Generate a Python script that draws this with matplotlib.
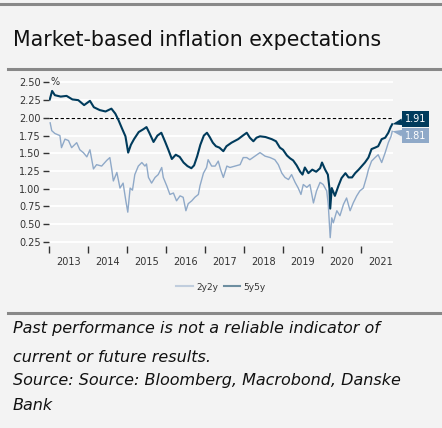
import matplotlib.pyplot as plt
from matplotlib.lines import Line2D

# (decimal years, %)
t_5y5y = [2013.02, 2013.08, 2013.15, 2013.3, 2013.45, 2013.6, 2013.75, 2013.9, 2014.05, 2014.15,
          2014.3, 2014.45, 2014.6, 2014.7, 2014.78, 2014.88, 2014.96, 2015.03, 2015.1, 2015.18,
          2015.3, 2015.42, 2015.5, 2015.58, 2015.68, 2015.78, 2015.88, 2015.98, 2016.06, 2016.15,
          2016.25, 2016.35, 2016.45, 2016.55, 2016.65, 2016.72, 2016.8, 2016.88, 2016.97, 2017.05,
          2017.12, 2017.2, 2017.28, 2017.37, 2017.47, 2017.55, 2017.68, 2017.85, 2017.97, 2018.07,
          2018.15, 2018.24, 2018.32, 2018.41, 2018.55, 2018.71, 2018.82, 2018.92, 2019.0, 2019.1,
          2019.18, 2019.26, 2019.35, 2019.44, 2019.5, 2019.56, 2019.65, 2019.75, 2019.85, 2019.95,
          2020.0, 2020.08, 2020.15, 2020.19, 2020.21, 2020.25, 2020.33, 2020.42, 2020.5, 2020.6,
          2020.68, 2020.77, 2020.85, 2020.94, 2021.02, 2021.1, 2021.19, 2021.27, 2021.36, 2021.44,
          2021.53, 2021.62, 2021.7, 2021.76, 2021.8]
v_5y5y = [2.26, 2.38, 2.32, 2.30, 2.31, 2.26, 2.25, 2.18, 2.24, 2.15,
          2.11, 2.09, 2.13, 2.06, 1.97, 1.84, 1.74, 1.51, 1.62, 1.70,
          1.80, 1.84, 1.87, 1.78, 1.66, 1.75, 1.79, 1.66, 1.55, 1.42,
          1.48, 1.45, 1.37, 1.32, 1.29, 1.33, 1.46, 1.62, 1.75, 1.79,
          1.73, 1.65, 1.60, 1.58, 1.53, 1.60, 1.65, 1.70, 1.75, 1.79,
          1.72, 1.67, 1.72, 1.74, 1.73, 1.70, 1.67, 1.58, 1.55, 1.47,
          1.43, 1.40, 1.33, 1.24, 1.20, 1.30, 1.22, 1.27, 1.24, 1.29,
          1.37, 1.27, 1.20, 1.01, 0.72, 1.01, 0.90, 1.04, 1.15, 1.22,
          1.16, 1.16, 1.22, 1.27, 1.32, 1.37, 1.44, 1.56, 1.58, 1.60,
          1.70, 1.72, 1.79, 1.87, 1.91]

t_2y2y = [2013.03, 2013.07, 2013.15, 2013.28, 2013.32, 2013.41, 2013.5, 2013.58, 2013.71, 2013.79,
          2013.88, 2013.97, 2014.05, 2014.14, 2014.22, 2014.35, 2014.48, 2014.56, 2014.61, 2014.65,
          2014.74, 2014.82, 2014.9, 2014.97, 2015.02, 2015.08, 2015.14, 2015.2, 2015.29, 2015.38,
          2015.46, 2015.5, 2015.55, 2015.63, 2015.72, 2015.8, 2015.89, 2015.93, 2016.02, 2016.1,
          2016.19, 2016.27, 2016.36, 2016.44, 2016.51, 2016.57, 2016.66, 2016.74, 2016.83, 2016.87,
          2016.96, 2017.04, 2017.08, 2017.17, 2017.26, 2017.34, 2017.4, 2017.47, 2017.56, 2017.64,
          2017.77, 2017.9, 2017.98, 2018.07, 2018.15, 2018.28, 2018.41, 2018.54, 2018.67, 2018.79,
          2018.88, 2018.97, 2019.05, 2019.14, 2019.22, 2019.31, 2019.39, 2019.46, 2019.52, 2019.61,
          2019.69, 2019.78, 2019.86, 2019.95, 2020.03, 2020.12, 2020.16, 2020.21, 2020.25, 2020.29,
          2020.38, 2020.46, 2020.55, 2020.63, 2020.72, 2020.8, 2020.89, 2020.97, 2021.06, 2021.15,
          2021.19, 2021.27, 2021.36, 2021.44, 2021.53, 2021.62, 2021.7, 2021.77, 2021.8]
v_2y2y = [1.93, 1.82, 1.78, 1.75, 1.58, 1.70, 1.68, 1.58, 1.65, 1.55,
          1.51, 1.45, 1.55, 1.28, 1.34, 1.32, 1.40, 1.44, 1.27, 1.11,
          1.23, 1.01, 1.08, 0.83, 0.67, 1.01, 0.98, 1.20, 1.32, 1.37,
          1.32, 1.35, 1.16, 1.08, 1.16, 1.20, 1.30, 1.16, 1.04, 0.92,
          0.94, 0.83, 0.90, 0.88, 0.69, 0.79, 0.83, 0.88, 0.92, 1.04,
          1.22, 1.30, 1.41, 1.32, 1.32, 1.39, 1.27, 1.16, 1.32, 1.30,
          1.32, 1.34, 1.44, 1.44, 1.41, 1.46, 1.51, 1.46, 1.44, 1.41,
          1.34, 1.22, 1.16, 1.13, 1.20, 1.09, 1.01, 0.92, 1.06, 1.02,
          1.06, 0.80, 0.97, 1.09, 1.06, 0.97, 0.78, 0.31, 0.59, 0.52,
          0.69, 0.62, 0.78, 0.87, 0.69, 0.80, 0.90, 0.97, 1.01, 1.18,
          1.27, 1.39, 1.44, 1.48, 1.37, 1.51, 1.65, 1.74, 1.81]

years = list(range(2013, 2022))
yticks = [0.25, 0.50, 0.75, 1.00, 1.25, 1.50, 1.75, 2.00, 2.25, 2.50]

dark = "#003b5c"
light = "#8fa9c8"
bg = "#f3f3f3"

fig = plt.figure(figsize=(4.42, 4.28), dpi=100, facecolor=bg)
ax = fig.add_axes([49 / 442, 1 - 253 / 428, 344 / 442, 172 / 428], facecolor=bg)

# gridlines + 2% target line
for y in yticks:
    ax.axhline(y, color="white", lw=1.4, zorder=0)
ax.axhline(2.0, color="black", lw=0.8, ls=(0, (3, 2)), zorder=1)

ax.plot(t_2y2y, v_2y2y, color=light, lw=1.0, zorder=2)
ax.plot(t_5y5y, v_5y5y, color=dark, lw=1.5, zorder=3)

ax.set_xlim(2013.0, 2021.82)
ax.set_ylim(0.094, 2.52)
for s in ax.spines.values():
    s.set_visible(False)

ax.set_yticks(yticks)
ax.set_yticklabels([f"{y:.2f}" for y in yticks])
ax.tick_params(axis="y", length=4, width=1, color="#333333", pad=2,
               labelsize=7, labelcolor="#333333")
ax.text(2013.05, 2.50, "%", fontsize=7, color="#333333", va="center", ha="left")

ax.set_xticks(years)
ax.set_xticklabels([])
ax.set_xticks([y + 0.5 for y in years], minor=True)
ax.set_xticklabels([str(y) for y in years], minor=True)
ax.tick_params(axis="x", which="major", direction="in", length=5, width=1, color="#333333")
ax.tick_params(axis="x", which="minor", length=0, pad=3, labelsize=7, labelcolor="#333333")

# end-of-line value tags
for t, v, c, dy in [(t_5y5y[-1], v_5y5y[-1], dark, 4), (t_2y2y[-1], v_2y2y[-1], light, -3)]:
    ax.annotate(f"{v:.2f}", xy=(t, v), xytext=(17, dy), textcoords="offset points",
                ha="center", va="center", fontsize=7, color="white",
                bbox=dict(boxstyle="square,pad=0.3", fc=c, ec="none"),
                arrowprops=dict(arrowstyle="wedge,tail_width=0.7,shrink_factor=0.5",
                                fc=c, ec="none", shrinkA=0, shrinkB=0),
                annotation_clip=False, zorder=5)

handles = [Line2D([], [], color=light, lw=1.5, alpha=0.5),
           Line2D([], [], color=dark, lw=1.5, alpha=0.55)]
fig.legend(handles, ["2y2y", "5y5y"], loc="center", bbox_to_anchor=(0.5, 1 - 287 / 428),
           ncol=2, frameon=False, fontsize=6.5, handlelength=1.8, handletextpad=0.4,
           columnspacing=0.6, labelcolor="#333333")

# title and rules
fig.add_artist(Line2D([0, 1], [1 - 4 / 428] * 2, color="#888888", lw=2.2))
fig.add_artist(Line2D([8 / 442, 1], [1 - 69 / 428] * 2, color="#888888", lw=2.2))
fig.add_artist(Line2D([8 / 442, 1], [1 - 313 / 428] * 2, color="#888888", lw=2.2))
fig.text(13 / 442, 1 - 40 / 428, "Market-based inflation expectations", fontsize=14.8,
         color="#111111", va="center", ha="left")

notes = ["Past performance is not a reliable indicator of",
         "current or future results.",
         "Source: Source: Bloomberg, Macrobond, Danske",
         "Bank"]
for y, line in zip([328, 357, 381, 406], notes):
    fig.text(13 / 442, 1 - y / 428, line, fontsize=11.5, style="italic",
             color="#111111", va="center", ha="left")

fig.savefig("out.png", dpi=100, facecolor=bg)
